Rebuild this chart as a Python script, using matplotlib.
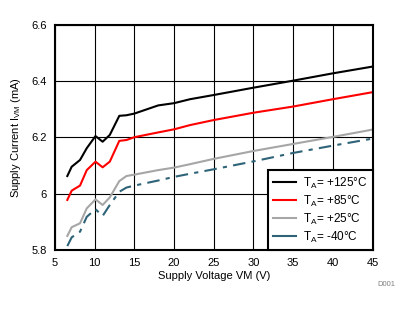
import matplotlib
matplotlib.use("Agg")
import matplotlib.pyplot as plt

plt.rcParams['font.family'] = ['Liberation Sans', 'DejaVu Sans']

# supply voltage (V) and supply current (mA)
v_low = [6.55, 7.1, 8.15, 9.0, 10.1, 11.0, 11.9, 13.1, 14.0, 15, 18, 20, 22, 25, 30, 35, 40, 45]
i_125 = [6.063, 6.096, 6.12, 6.162, 6.205, 6.185, 6.209, 6.277, 6.279, 6.285, 6.314, 6.322, 6.336, 6.351, 6.377, 6.402, 6.428, 6.452]
i_85 = [5.978, 6.011, 6.029, 6.084, 6.114, 6.094, 6.114, 6.188, 6.191, 6.201, 6.218, 6.229, 6.244, 6.262, 6.288, 6.31, 6.336, 6.361]
i_25 = [5.850, 5.881, 5.895, 5.948, 5.980, 5.960, 5.987, 6.045, 6.063, 6.068, 6.084, 6.093, 6.105, 6.124, 6.152, 6.177, 6.202, 6.228]
i_m40 = [5.814, 5.845, 5.865, 5.918, 5.945, 5.921, 5.960, 6.007, 6.022, 6.029, 6.047, 6.060, 6.071, 6.087, 6.115, 6.145, 6.171, 6.196]

labels = [r'T$_\mathregular{A}$= +125°C', r'T$_\mathregular{A}$= +85°C',
          r'T$_\mathregular{A}$= +25°C', r'T$_\mathregular{A}$= -40°C']
colors = ['black', '#FF0000', '#A6A6A6', '#2E6378']

fig = plt.figure(figsize=(4.06, 3.12), dpi=100)
ax = fig.add_axes([0.1355, 0.1987, 0.782, 0.7213])

ax.plot(v_low, i_125, color=colors[0], lw=1.5, label=labels[0])
ax.plot(v_low, i_85, color=colors[1], lw=1.5, label=labels[1])
ax.plot(v_low, i_25, color=colors[2], lw=1.5, label=labels[2])
ax.plot(v_low, i_m40, color=colors[3], lw=1.5, label=labels[3], dashes=(6, 3, 2, 3))

ax.set_xlim(5, 45)
ax.set_ylim(5.8, 6.6)
ax.set_xticks(range(5, 46, 5))
ax.set_yticks([5.8, 6.0, 6.2, 6.4, 6.6])
ax.set_yticklabels(['5.8', '6', '6.2', '6.4', '6.6'])
ax.tick_params(length=0, labelsize=8, pad=6)
ax.grid(True, color='black', lw=0.8)
for s in ax.spines.values():
    s.set_linewidth(1.5)

ax.set_xlabel('Supply Voltage VM (V)', fontsize=8, labelpad=2)
ax.set_ylabel(r'Supply Current I$_\mathregular{VM}$ (mA)', fontsize=8, labelpad=6)

leg = ax.legend(loc='lower right', fontsize=8.5, frameon=True, fancybox=False,
                borderaxespad=0, handlelength=1.9, labelspacing=0.25,
                handletextpad=0.6, borderpad=0.45)
leg.get_frame().set_edgecolor('black')
leg.get_frame().set_linewidth(1.5)
leg.get_frame().set_alpha(1)
for h in leg.get_lines():
    h.set_linestyle('-')

fig.text(0.973, 0.087, 'D001', fontsize=5.5, color='#808080', ha='right', va='center')

fig.savefig('out.png', dpi=100)
